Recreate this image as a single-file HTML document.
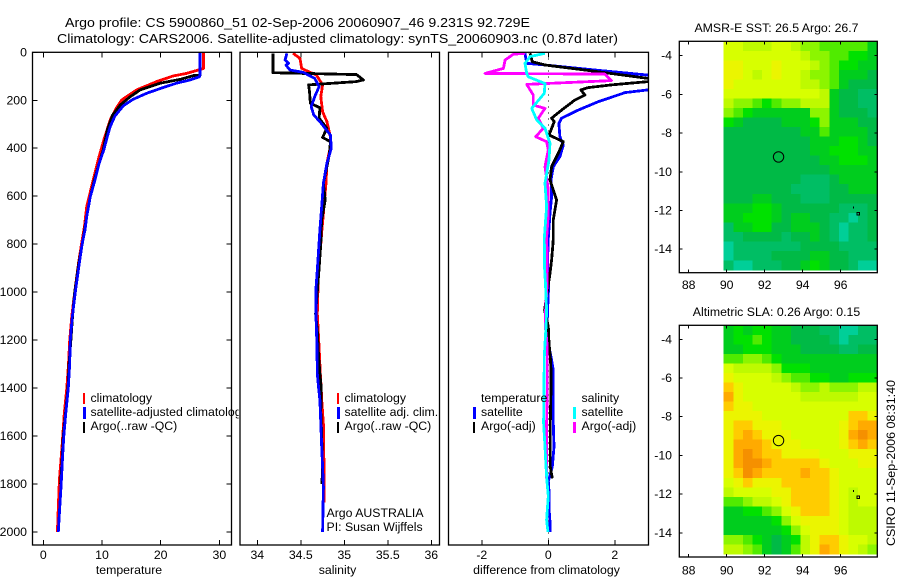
<!DOCTYPE html>
<html lang="en">
<head>
<meta charset="utf-8">
<title>Argo profile 5900860</title>
<style>
html,body{margin:0;padding:0;background:#fff;}
svg{display:block;font-family:"Liberation Sans",sans-serif;font-size:12.3px;fill:#000;}
</style>
</head>
<body>
<svg id="fig" xmlns="http://www.w3.org/2000/svg" width="900" height="580" viewBox="0 0 900 580">
<rect x="0" y="0" width="900" height="580" fill="#fff"/>
<text x="65" y="27" font-size="13" textLength="465" lengthAdjust="spacingAndGlyphs">Argo profile: CS 5900860_51 02-Sep-2006 20060907_46 9.231S 92.729E</text>
<text x="57" y="43" font-size="13" textLength="561" lengthAdjust="spacingAndGlyphs">Climatology: CARS2006. Satellite-adjusted climatology: synTS_20060903.nc (0.87d later)</text>
<defs>
<clipPath id="clip-temp"><rect x="32.5" y="52.3" width="199" height="492.7"/></clipPath>
<clipPath id="clip-sal"><rect x="240" y="52.3" width="199.5" height="492.7"/></clipPath>
<clipPath id="clip-diff"><rect x="448.5" y="52.3" width="200" height="492.7"/></clipPath>
</defs>
<g id="panel-temp"></g>
<g>
<rect x="83" y="393" width="2" height="11" fill="#f00"/>
<rect x="83" y="407" width="3" height="12" fill="#00f"/>
<rect x="83" y="422" width="2" height="11" fill="#000"/>
<text x="90.5" y="402">climatology</text>
<text x="90.5" y="416">satellite-adjusted climatology</text>
<text x="90.5" y="430">Argo(..raw -QC)</text>
</g>
<g id="panel-sal"></g>
<g id="panel-diff"></g>
<g id="map-sst"></g>
<g id="map-sla"></g>

<text x="129" y="574" text-anchor="middle">temperature</text>
<text x="337.5" y="574" text-anchor="middle">salinity</text>
<text x="546.5" y="574" text-anchor="middle">difference from climatology</text>
<text x="776.5" y="32" text-anchor="middle">AMSR-E SST: 26.5 Argo: 26.7</text>
<text x="776.5" y="316" text-anchor="middle">Altimetric SLA: 0.26 Argo: 0.15</text>
<text transform="translate(895,546) rotate(-90)" textLength="166" lengthAdjust="spacingAndGlyphs">CSIRO 11-Sep-2006 08:31:40</text>
</svg>

<script>
// ---- temperature profile values ----
const tempClimDepth = [0,67,74,88,99,122,157,199,234,282,366,435,532,644,727,800,880,1000,1100,1200,1300,1400,1505,1645,1783,1900,2000];
const tempClimVal = [27.3,27.3,26.4,24.4,22.1,19.3,15.9,13.35,12.4,11.4,10.3,9.5,8.5,7.4,7.0,6.5,6.0,5.35,4.85,4.5,4.3,4.0,3.58,3.18,2.75,2.55,2.4];
const tempSatDepth = [0,95,102,115,129,147,171,196,224,266,310,352,407,463,532,602,685,741,795,880,1000,1103,1200,1297,1400,1500,1600,1700,1800,1900,2000];
const tempSatVal = [26.7,26.7,26.6,25.0,22.7,20.4,17.6,15.3,13.6,12.2,11.4,10.9,10.3,9.5,8.8,8.0,7.4,7.1,6.65,6.14,5.45,4.94,4.6,4.49,4.26,3.85,3.5,3.25,3.05,2.8,2.55];
const tempArgoDepth = [0,95,97,113,129,157,185,220,262,324,407,463,532,602,685,776,880,1000,1103,1200,1297,1400,1600,1700,1800];
const tempArgoVal = [26.7,26.7,25.6,23.3,19.9,16.5,14.8,13.1,11.8,10.9,10.2,9.5,8.7,8.0,7.4,6.8,6.05,5.35,4.98,4.7,4.4,4.2,3.4,3.2,2.95];

// ---- salinity profile values ----
const salClimDepth = [4,25,67,81,95,136,185,248,289,352,393,463,546,671,741,850,950,1090,1230,1340,1400,1450,1550,1650,1730,1878];
const salClimVal = [34.41,34.49,34.51,34.59,34.68,34.75,34.73,34.75,34.80,34.84,34.84,34.80,34.79,34.76,34.743,34.72,34.70,34.69,34.71,34.724,34.735,34.74,34.76,34.76,34.77,34.77];
const salSatDepth = [4,32,46,53,74,84,109,143,185,227,262,289,345,400,463,546,644,741,825,909,991,1090,1228,1338,1400,1450,1546,1646,1729,1813,2000];
const salSatVal = [34.34,34.32,34.36,34.33,34.375,34.53,34.66,34.71,34.66,34.62,34.65,34.72,34.84,34.85,34.80,34.76,34.74,34.72,34.705,34.69,34.674,34.674,34.686,34.69,34.705,34.72,34.73,34.74,34.75,34.76,34.75];
const salArgoDepth = [4,85,93,115,122,136,164,213,231,275,317,355,373,421,477,546,616,699,741,797,900,1090,1160,1270,1340,1400,1500,1600,1750,1800];
const salArgoVal = [34.18,34.18,35.14,35.22,35.14,34.59,34.60,34.61,34.72,34.71,34.80,34.75,34.84,34.83,34.80,34.76,34.78,34.74,34.735,34.73,34.71,34.67,34.69,34.705,34.72,34.735,34.73,34.74,34.75,34.74];

// ---- difference-from-climatology values ----
const diffTSatDepth = [4,46,53,74,95,115,130,157,168,206,241,275,296,352,387,435,477,532,602,671,776,866,977,1075,1144,1214,1270,1325,1400,1546,1646,1729,1790,1830,1900,1960,2000];
const diffTSatVal = [-0.70,-0.65,-0.10,1.40,3.0,4.5,5.0,3.0,2.31,1.50,0.90,0.40,0.32,0.35,0.45,0.35,0.15,0.08,0.10,0.05,0,-0.02,0.01,-0.02,-0.04,0,0.08,0.15,0.15,0.15,0.17,0.12,0,0.02,0.02,0.05,0.05];
const diffTArgoDepth = [4,39,53,74,109,113,122,136,147,157,178,199,241,275,289,345,373,421,477,532,616,699,776,797,866,923,977,1075,1144,1214,1270,1325,1400,1546,1646,1729,1777];
const diffTArgoVal = [-0.55,-0.48,-0.10,1.10,3.0,3.5,3.0,1.90,1.20,0.98,1.10,0.80,0.40,0.10,0.18,0.02,0.45,0.30,0.10,0.05,0.25,0.15,0.15,0.14,0.10,0.05,-0.01,-0.11,0,0.02,0.06,0.08,0.08,0.06,0.06,0.06,0.12];
const diffSSatDepth = [4,18,46,88,102,130,171,234,282,317,380,449,546,644,776,900,977,1075,1144,1214,1270,1400,1546,1646,1729,1790,1850,1950,2000];
const diffSSatVal = [-0.10,-0.55,-0.70,-0.65,-0.60,-0.10,-0.12,-0.50,-0.35,-0.10,0.05,0.02,-0.10,-0.05,-0.12,-0.11,-0.08,-0.05,-0.07,-0.10,-0.12,-0.13,-0.14,-0.10,-0.07,-0.04,0,-0.05,-0.01];
const diffSArgoDepth = [4,8,32,67,88,91,118,134,178,220,234,275,317,352,373,407,477,574,671,776,866,977,1075,1144,1214,1270,1400,1546,1700,1777];
const diffSArgoVal = [-0.70,-1.05,-1.30,-1.35,-1.90,1.70,1.90,-0.65,-0.45,-0.45,-0.10,-0.30,-0.15,-0.38,-0.05,0,-0.10,0,0,-0.05,-0.03,-0.04,-0.08,-0.09,-0.04,-0.03,-0.03,-0.05,-0.05,-0.06];

// ---- axis tick labels ----
const depthTicks = [0,200,400,600,800,1000,1200,1400,1600,1800,2000];
const tempTicks = [0,10,20,30];
const salTicks = [34,34.5,35,35.5,36];
const diffTicks = [-2,0,2];
const lonTicks = [88,90,92,94,96];
const latTicks = [-4,-6,-8,-10,-12,-14];

// ---- map values: colour levels, 16 columns x 24 rows, north to south ----
const sstLevels = [
[8,8,7,7,7,8,8,7,6,6,5,5,5,5,5,3],
[8,8,8,8,8,8,8,8,7,6,6,5,5,4,4,3],
[9,9,8,8,8,9,8,8,8,7,6,5,4,4,3,3],
[9,9,8,7,8,9,8,8,7,6,6,5,3,3,3,2],
[9,8,8,8,8,8,8,8,7,7,6,5,3,2,2,2],
[8,8,8,8,8,8,8,8,8,8,7,3,2,2,1,1],
[7,6,6,5,4,5,6,6,7,7,7,3,2,2,1,1],
[6,5,4,3,3,3,3,3,3,6,6,3,2,2,2,1],
[4,3,2,2,2,2,3,3,3,4,6,3,3,3,2,2],
[2,2,2,2,2,2,2,2,3,3,5,3,3,3,3,2],
[2,2,2,2,2,2,2,2,2,3,3,3,4,4,3,2],
[2,2,2,2,2,2,2,2,2,3,3,4,4,4,3,3],
[2,2,2,2,2,2,2,2,2,2,3,3,4,4,4,3],
[2,2,2,2,2,2,2,2,2,2,2,3,3,3,3,3],
[2,2,2,2,2,2,2,2,1,1,1,2,3,3,3,3],
[2,2,2,2,2,2,2,1,1,1,1,2,2,3,3,3],
[2,2,2,3,3,2,2,2,1,1,1,2,2,2,2,2],
[3,3,3,4,4,3,2,2,2,2,2,2,1,1,1,2],
[3,3,4,4,4,3,2,3,3,2,2,1,1,0,1,2],
[1,3,3,4,4,2,2,3,3,3,2,1,0,1,1,2],
[1,1,2,2,2,2,1,2,2,3,2,1,0,1,1,2],
[0,1,1,1,1,1,1,1,2,2,2,2,1,1,1,1],
[0,1,1,1,1,2,2,2,2,3,3,2,2,1,1,1],
[1,0,0,1,1,1,2,2,3,4,3,2,2,1,0,0]
];
const slaLevels = [
[3,4,3,4,4,3,3,2,2,2,1,1,0,0,1,1],
[3,4,4,5,4,3,3,2,2,2,2,1,0,1,1,1],
[3,3,4,4,4,3,3,3,2,2,2,2,1,1,2,2],
[5,5,6,6,5,4,3,3,3,3,3,3,3,3,3,3],
[8,7,7,7,7,6,4,4,4,3,3,3,3,3,3,3],
[9,8,8,8,8,7,6,5,5,4,4,3,3,4,4,4],
[10,9,8,8,8,8,8,7,6,6,7,6,6,6,7,7],
[11,9,8,8,8,8,8,8,7,7,7,7,7,7,8,8],
[10,9,9,8,8,8,8,8,8,8,8,8,8,8,8,8],
[9,9,9,9,8,8,8,8,8,8,8,8,8,10,10,9],
[9,10,10,9,9,9,8,8,8,8,8,8,9,10,11,11],
[9,10,11,10,9,9,9,8,8,8,8,8,9,11,12,11],
[9,11,11,11,10,9,9,9,8,8,8,8,9,10,11,10],
[9,11,12,11,10,10,9,9,9,9,8,8,8,9,9,9],
[9,11,12,12,11,10,10,10,10,10,9,8,8,8,9,9],
[9,10,12,11,10,10,10,10,11,10,10,9,8,8,8,8],
[8,9,10,9,9,9,10,10,10,10,10,9,8,8,8,8],
[7,8,8,8,8,9,9,10,10,10,10,9,8,7,8,8],
[5,5,6,7,7,8,9,10,10,10,10,9,8,7,8,8],
[3,3,4,4,5,6,8,9,10,10,10,9,8,7,7,7],
[3,3,3,3,3,4,6,8,9,9,9,9,8,7,7,7],
[3,3,3,3,3,3,4,6,8,9,9,9,8,7,7,7],
[6,6,5,4,3,2,3,4,7,9,10,10,9,8,8,7],
[7,7,6,5,3,2,3,5,7,9,11,10,9,8,7,6]
];
const floatLon = 92.729;
const floatLat = -9.231;

// ---- axis functions ----
const NS = 'http://www.w3.org/2000/svg';
function depthY(d){ return 52.3 + d * 0.2398; }
function tempX(t){ return 43.3 + t * 5.87; }
function salX(s){ return 257.3 + (s - 34) * 87; }
function diffX(v){ return 548.3 + v * 33.25; }
function lonX(lon){ return 726.7 + (lon - 90) * 19; }
function latYsst(lat){ return 55.7 + (-4 - lat) * 19.35; }
function latYsla(lat){ return 339.3 + (-4 - lat) * 19.35; }
function levelColor(level){
  const stops = ['#00cf98','#00be64','#00ba46','#00cd1e','#00e100','#50eb00','#8cf500','#befa00','#d7ff00','#ebf500','#ffcc00','#ffaa00','#f59000'];
  return stops[Math.max(0, Math.min(12, Math.round(level)))];
}
function make(tag, attrs, parent){
  const el = document.createElementNS(NS, tag);
  for (const k in attrs) el.setAttribute(k, attrs[k]);
  parent.appendChild(el);
  return el;
}

function drawFrame(g, x0, y0, x1, y1){
  const frame = make('rect', {x:x0, y:y0, width:x1-x0, height:y1-y0, fill:'none', stroke:'#000', 'stroke-width':1.3}, g);
  
  
}
function tickMark(g, x1, y1, x2, y2){
  const t = make('line', {x1:x1, y1:y1, x2:x2, y2:y2, stroke:'#000', 'stroke-width':1, 'shape-rendering':'crispEdges'}, g);
  
  
}
function tickLabel(g, x, y, txt, anchor){
  const t = make('text', {x:x, y:y, 'text-anchor':anchor}, g);
  t.textContent = txt;
  
  
}
function profileLine(g, depths, vals, xFn, color, name, clip){
  const pts = depths.map(function(d, i){ return xFn(vals[i]).toFixed(1) + ',' + depthY(d).toFixed(1); }).join(' ');
  const p = make('polyline', {points:pts, fill:'none', stroke:color, 'stroke-width':2.8, 'stroke-linejoin':'round', 'clip-path':'url(#' + clip + ')', 'shape-rendering':'crispEdges'}, g);
  
  
}
function xAxisTicks(g, ticks, xFn, y0, y1, labelY){
  ticks.forEach(function(v){
    const x = xFn(v);
    tickMark(g, x, y0, x, y0 + 5);
    tickMark(g, x, y1 - 5, x, y1);
    tickLabel(g, x, labelY, String(v), 'middle');
  });
}

// ---- temperature panel ----
const gT = document.getElementById('panel-temp');
make('rect', {x:32.5, y:52.3, width:199, height:492.7, fill:'#fff'}, gT);
profileLine(gT, tempClimDepth, tempClimVal, tempX, '#f00', 'series-temperature-climatology', 'clip-temp');
profileLine(gT, tempArgoDepth, tempArgoVal, tempX, '#000', 'series-temperature-argo', 'clip-temp');
profileLine(gT, tempSatDepth, tempSatVal, tempX, '#00f', 'series-temperature-satellite', 'clip-temp');
drawFrame(gT, 32.5, 52.3, 231.5, 545);
xAxisTicks(gT, tempTicks, tempX, 52.3, 545, 559);
depthTicks.forEach(function(d){
  const y = depthY(d);
  tickMark(gT, 32.5, y, 37.5, y);
  tickMark(gT, 226.5, y, 231.5, y);
  tickLabel(gT, 27, y + 4, String(d), 'end');
});

// ---- salinity panel ----
const gS = document.getElementById('panel-sal');
make('rect', {x:238.7, y:51, width:201, height:494, fill:'#fff'}, gS);
profileLine(gS, salClimDepth, salClimVal, salX, '#f00', 'series-salinity-climatology', 'clip-sal');
profileLine(gS, salArgoDepth, salArgoVal, salX, '#000', 'series-salinity-argo', 'clip-sal');
profileLine(gS, salSatDepth, salSatVal, salX, '#00f', 'series-salinity-satellite', 'clip-sal');
drawFrame(gS, 240, 52.3, 439.5, 545);
xAxisTicks(gS, salTicks, salX, 52.3, 545, 559);

// ---- difference panel ----
const gD = document.getElementById('panel-diff');
make('rect', {x:447, y:52, width:202, height:493, fill:'#fff'}, gD);
const zero = make('line', {x1:diffX(0), y1:52.3, x2:diffX(0), y2:545, stroke:'#000', 'stroke-width':1, 'stroke-dasharray':'1 5', 'shape-rendering':'crispEdges'}, gD);


profileLine(gD, diffTSatDepth, diffTSatVal, diffX, '#00f', 'series-temperature-difference-satellite', 'clip-diff');
profileLine(gD, diffTArgoDepth, diffTArgoVal, diffX, '#000', 'series-temperature-difference-argo', 'clip-diff');
profileLine(gD, diffSArgoDepth, diffSArgoVal, diffX, '#f0f', 'series-salinity-difference-argo', 'clip-diff');
profileLine(gD, diffSSatDepth, diffSSatVal, diffX, '#0ff', 'series-salinity-difference-satellite', 'clip-diff');
drawFrame(gD, 448.5, 52.3, 648.5, 545);
xAxisTicks(gD, diffTicks, diffX, 52.3, 545, 559);

// ---- maps ----
function drawMap(g, levels, latFn, top, bottom, imgBottom, labelY, mapName){
  const left = 723.7, right = 877.3;
  const rows = levels.length;
  const cols = levels[0].length;
  const cw = (right - left) / cols;
  const ch = (imgBottom - top) / rows;
  levels.forEach(function(row, r){
    row.forEach(function(v, c){
      const cell = make('rect', {x:left + c * cw, y:top + r * ch, width:cw + 0.4, height:ch + 0.4, fill:levelColor(v), 'shape-rendering':'crispEdges'}, g);
      
      
    });
  });
  drawFrame(g, 679.3, top, right, bottom);
  lonTicks.forEach(function(lon){
    const x = lonX(lon);
    tickMark(g, x, top, x, top + 3);
    tickMark(g, x, bottom - 3, x, bottom);
    tickLabel(g, x, labelY, String(lon), 'middle');
  });
  latTicks.forEach(function(lat){
    const y = latFn(lat);
    tickMark(g, 679.3, y, 682.3, y);
    tickMark(g, right - 3, y, right, y);
    tickLabel(g, 672, y + 4, String(lat), 'end');
  });
  const ring = make('circle', {cx:lonX(floatLon), cy:latFn(floatLat), r:5.2, fill:'none', stroke:'#000', 'stroke-width':1}, g);
  
  
  const mark = make('rect', {x:lonX(96.65), y:latFn(-11.8), width:1, height:2, fill:'#000', 'shape-rendering':'crispEdges'}, g);
  
  
  const box = make('rect', {x:lonX(96.9) - 1, y:latFn(-12.15) - 1, width:2.5, height:2.5, fill:'none', stroke:'#000', 'stroke-width':1, 'shape-rendering':'crispEdges'}, g);
  
  
}
drawMap(document.getElementById('map-sst'), sstLevels, latYsst, 41.3, 272.7, 270, 289, 'sst');
drawMap(document.getElementById('map-sla'), slaLevels, latYsla, 325.3, 557, 554, 574.5, 'sla');
</script>
<svg xmlns="http://www.w3.org/2000/svg" width="900" height="580" viewBox="0 0 900 580" style="position:absolute;left:0;top:0;">
<g>
<rect x="337" y="393" width="2" height="11" fill="#f00"/>
<rect x="337" y="407" width="3" height="12" fill="#00f"/>
<rect x="337" y="422" width="2" height="11" fill="#000"/>
<text x="344.5" y="402">climatology</text>
<text x="344.5" y="416">satellite adj. clim.</text>
<text x="344.5" y="430">Argo(..raw -QC)</text>
<text x="326.5" y="517">Argo AUSTRALIA</text>
<text x="326.5" y="531">PI: Susan Wijffels</text>
</g>
<g>
<text x="481" y="402">temperature</text>
<rect x="473" y="407" width="3" height="12" fill="#00f"/>
<text x="481" y="416">satellite</text>
<rect x="473" y="422" width="2" height="11" fill="#000"/>
<text x="481" y="430">Argo(-adj)</text>
<text x="581.5" y="402">salinity</text>
<rect x="573" y="407" width="3" height="12" fill="#0ff"/>
<text x="581.5" y="416">satellite</text>
<rect x="573" y="422" width="3" height="11" fill="#f0f"/>
<text x="581.5" y="430">Argo(-adj)</text>
</g>
</svg>
</body>
</html>
